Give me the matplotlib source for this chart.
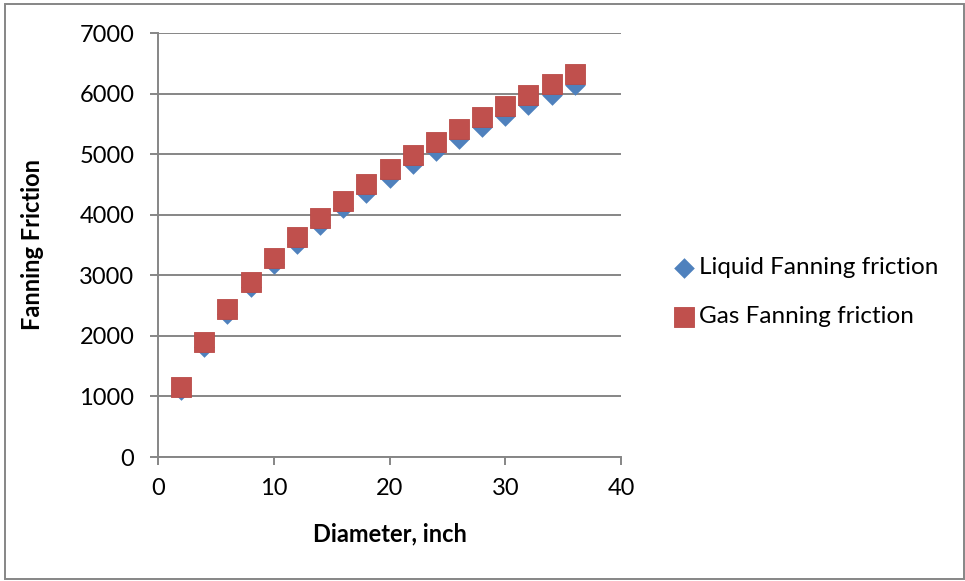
import matplotlib.pyplot as plt
from matplotlib.patches import Rectangle

diameter = [2, 4, 6, 8, 10, 12, 14, 16, 18, 20, 22, 24, 26, 28, 30, 32, 34, 36]
liquid_friction = [1113, 1818, 2359, 2800, 3185, 3521, 3825, 4105, 4364, 4612,
                   4843, 5048, 5256, 5455, 5631, 5813, 5983, 6139]
gas_friction = [1157, 1891, 2438, 2896, 3289, 3636, 3940, 4231, 4507, 4750,
                4979, 5202, 5417, 5607, 5797, 5979, 6160, 6326]

plt.rcParams["font.family"] = ["Lato", "DejaVu Sans"]
grid_gray = "#868686"

fig = plt.figure(figsize=(9.65, 5.81), dpi=100)
ax = fig.add_axes([158 / 965, 1 - 457 / 581, 463 / 965, 424 / 581])

ax.scatter(diameter, liquid_friction, marker="D", s=10.5 ** 2,
           color="#4F81BD", linewidths=0, zorder=3, label="Liquid Fanning friction")
ax.scatter(diameter, gas_friction, marker="s", s=14.4 ** 2,
           color="#C0504D", edgecolors="#B94A47", linewidths=0.6, zorder=4,
           label="Gas Fanning friction")

ax.set_xlim(0, 40)
ax.set_ylim(0, 7000)
ax.set_xticks(range(0, 41, 10))
ax.set_yticks(range(0, 7001, 1000))
ax.yaxis.grid(True, color=grid_gray, linewidth=1.4)
ax.set_axisbelow(True)

for side in ("top", "right"):
    ax.spines[side].set_visible(False)
for side in ("left", "bottom"):
    ax.spines[side].set_color(grid_gray)
    ax.spines[side].set_linewidth(1.4)
ax.tick_params(axis="both", colors=grid_gray, labelcolor="black",
               labelsize=17, length=6, width=1.4, direction="out")
ax.tick_params(axis="y", pad=11)
ax.tick_params(axis="x", pad=9)

ax.set_xlabel("Diameter, inch", fontsize=17, fontweight="bold", labelpad=17)
fig.text(33 / 965, 1 - 245 / 581, "Fanning Friction", rotation=90,
         ha="center", va="center", fontsize=17, fontweight="bold")

ax.legend(loc="center left", bbox_to_anchor=(672 / 965, 1 - 292 / 581),
          bbox_transform=fig.transFigure, frameon=False, fontsize=17.5,
          borderpad=0, borderaxespad=0, handletextpad=0.1,
          labelspacing=1.15, handlelength=1.0, scatterpoints=1)

# thin frame around the whole chart
fig.patches.append(Rectangle((5 / 965, 2 / 581), 959 / 965, 575 / 581,
                             transform=fig.transFigure, fill=False,
                             edgecolor=grid_gray, linewidth=1.4))

fig.savefig("out.png", dpi=100)
